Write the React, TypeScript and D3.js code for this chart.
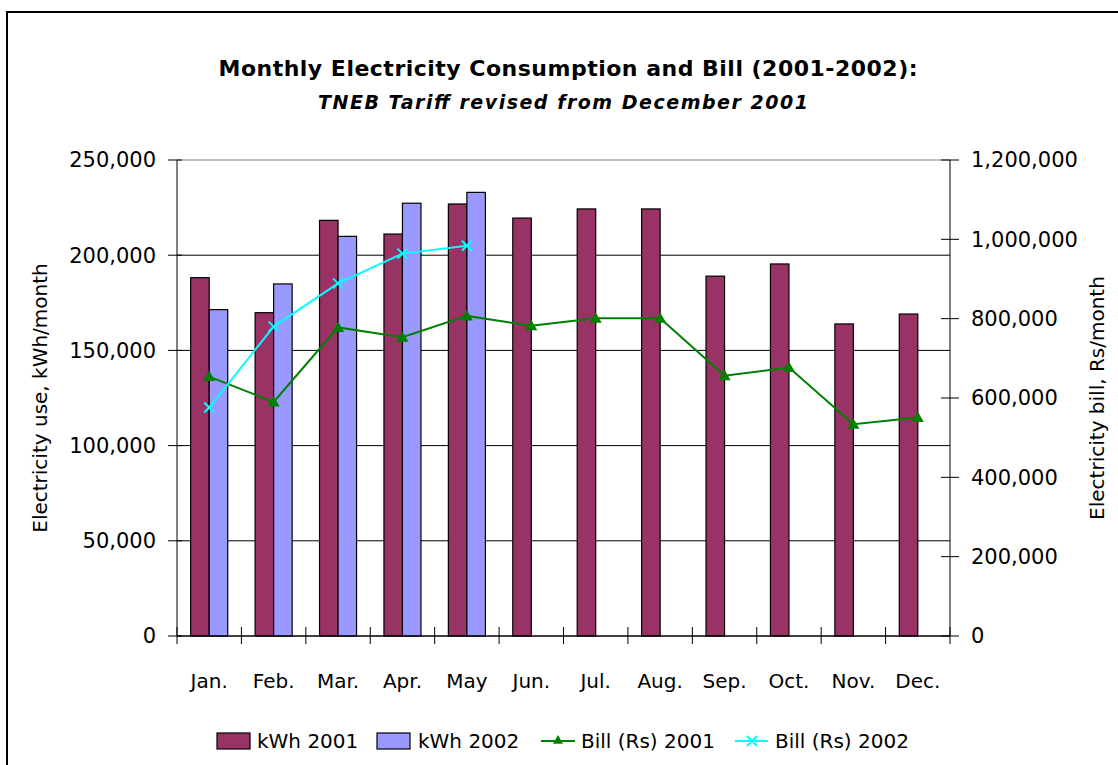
import React from 'react'
import * as d3 from 'd3'

const months = ['Jan.', 'Feb.', 'Mar.', 'Apr.', 'May', 'Jun.', 'Jul.', 'Aug.', 'Sep.', 'Oct.', 'Nov.', 'Dec.']
const kwh2001 = [188200, 169800, 218300, 211100, 226900, 219500, 224300, 224300, 189000, 195400, 163900, 169100]
const kwh2002: (number | null)[] = [171400, 184900, 209900, 227300, 233000, null, null, null, null, null, null, null]
const bill2001 = [654000, 590000, 778000, 753000, 807000, 782000, 801000, 801000, 656000, 677000, 534000, 551000]
const bill2002: (number | null)[] = [576000, 780000, 889000, 964000, 984000, null, null, null, null, null, null, null]

const W = 1118
const H = 765
const FONT = '"DejaVu Sans", Verdana, sans-serif'

const COL_2001 = '#993366'
const COL_2002 = '#9999FF'
const COL_BILL1 = '#008000'
const COL_BILL2 = '#00FFFF'

export default function App() {
  const margin = { left: 177, right: 950, top: 160, bottom: 636 }

  const x = d3.scaleBand<string>().domain(months).range([margin.left, margin.right]).padding(0)
  const xSub = d3.scaleBand<string>().domain(['2001', '2002']).range([0, x.bandwidth()]).paddingInner(0).paddingOuter(0.74)
  const yL = d3.scaleLinear().domain([0, 250000]).range([margin.bottom, margin.top])
  const yR = d3.scaleLinear().domain([0, 1200000]).range([margin.bottom, margin.top])
  const fmt = d3.format(',')

  const cx = (m: string) => (x(m) || 0) + x.bandwidth() / 2

  const line1 = d3.line<number>().x((_, i) => cx(months[i])).y(d => yR(d))
  const line2 = d3.line<number | null>()
    .defined(d => d != null)
    .x((_, i) => cx(months[i]))
    .y(d => yR(d as number))

  const tri = (px: number, py: number, s = 6) =>
    `M${px},${py - s}L${px + s},${py + s * 0.75}L${px - s},${py + s * 0.75}Z`
  const cross = (px: number, py: number, s = 5) =>
    `M${px - s},${py - s}L${px + s},${py + s}M${px - s},${py + s}L${px + s},${py - s}`

  const legendY = 741

  return (
    <svg width={W} height={H} style={{ position: 'absolute', left: 0, top: 0, background: '#fff' }} fontFamily={FONT}>
      <rect x={7} y={12} width={W} height={H} fill="#fff" stroke="#000" strokeWidth={2} />

      {/* titles */}
      <text x={568} y={76} textAnchor="middle" fontSize={22} fontWeight="bold" textLength={699} lengthAdjust="spacing">
        Monthly Electricity Consumption and Bill (2001-2002):
      </text>
      <text x={563} y={109} textAnchor="middle" fontSize={19} fontWeight="bold" fontStyle="italic" textLength={490} lengthAdjust="spacing">
        TNEB Tariff revised from December 2001
      </text>

      {/* gridlines */}
      {yL.ticks(5).map(t => (
        <line key={'g' + t} x1={margin.left} x2={margin.right} y1={yL(t)} y2={yL(t)} stroke={t === 250000 ? '#808080' : '#000'} strokeWidth={1} />
      ))}

      {/* bars */}
      {months.map((m, i) => (
        <g key={'b' + m}>
          <rect x={(x(m) || 0) + (xSub('2001') || 0)} y={yL(kwh2001[i])} width={xSub.bandwidth()} height={yL(0) - yL(kwh2001[i])}
            fill={COL_2001} stroke="#000" strokeWidth={1.2} />
          {kwh2002[i] != null && (
            <rect x={(x(m) || 0) + (xSub('2002') || 0)} y={yL(kwh2002[i] as number)} width={xSub.bandwidth()} height={yL(0) - yL(kwh2002[i] as number)}
              fill={COL_2002} stroke="#000" strokeWidth={1.2} />
          )}
        </g>
      ))}

      {/* lines */}
      <path d={line1(bill2001) || ''} fill="none" stroke={COL_BILL1} strokeWidth={2} />
      {bill2001.map((v, i) => (
        <path key={'t' + i} d={tri(cx(months[i]), yR(v))} fill={COL_BILL1} />
      ))}
      <path d={line2(bill2002) || ''} fill="none" stroke={COL_BILL2} strokeWidth={2} />
      {bill2002.map((v, i) => v != null && (
        <path key={'x' + i} d={cross(cx(months[i]), yR(v))} stroke={COL_BILL2} strokeWidth={2} fill="none" />
      ))}

      {/* left axis */}
      <line x1={margin.left} x2={margin.left} y1={margin.top} y2={margin.bottom} stroke="#000" />
      {yL.ticks(5).map(t => (
        <g key={'l' + t}>
          <line x1={margin.left - 9} x2={margin.left + 5} y1={yL(t)} y2={yL(t)} stroke="#000" />
          <text x={156} y={yL(t)} dy="0.35em" textAnchor="end" fontSize={21}>{fmt(t)}</text>
        </g>
      ))}

      {/* right axis */}
      <line x1={margin.right} x2={margin.right} y1={margin.top} y2={margin.bottom} stroke="#000" />
      {yR.ticks(6).map(t => (
        <g key={'r' + t}>
          <line x1={margin.right - 9} x2={margin.right + 9} y1={yR(t)} y2={yR(t)} stroke="#000" />
          <text x={971} y={yR(t)} dy="0.35em" textAnchor="start" fontSize={21}>{fmt(t)}</text>
        </g>
      ))}

      {/* x axis */}
      <line x1={margin.left} x2={margin.right} y1={margin.bottom} y2={margin.bottom} stroke="#000" />
      {months.concat(['end']).map((m, i) => {
        const px = margin.left + i * x.bandwidth()
        return <line key={'xt' + i} x1={px} x2={px} y1={margin.bottom - 9} y2={margin.bottom + 8} stroke="#000" />
      })}
      {months.map(m => (
        <text key={'xl' + m} x={cx(m)} y={688} textAnchor="middle" fontSize={20}>{m}</text>
      ))}

      {/* axis titles */}
      <text transform={`translate(47,${(margin.top + margin.bottom) / 2}) rotate(-90)`} textAnchor="middle" fontSize={20}>
        Electricity use, kWh/month
      </text>
      <text transform={`translate(1104,${(margin.top + margin.bottom) / 2}) rotate(-90)`} textAnchor="middle" fontSize={20}>
        Electricity bill, Rs/month
      </text>

      {/* legend */}
      <rect x={217} y={legendY - 8} width={33} height={16} fill={COL_2001} stroke="#000" strokeWidth={1.2} />
      <text x={257} y={legendY} dy="0.35em" fontSize={20}>kWh 2001</text>
      <rect x={377} y={legendY - 8} width={33} height={16} fill={COL_2002} stroke="#000" strokeWidth={1.2} />
      <text x={418} y={legendY} dy="0.35em" fontSize={20}>kWh 2002</text>
      <line x1={541} x2={575} y1={legendY} y2={legendY} stroke={COL_BILL1} strokeWidth={2} />
      <path d={tri(558, legendY - 1, 5)} fill={COL_BILL1} />
      <text x={581} y={legendY} dy="0.35em" fontSize={20}>Bill (Rs) 2001</text>
      <line x1={735} x2={768} y1={legendY} y2={legendY} stroke={COL_BILL2} strokeWidth={2} />
      <path d={cross(752, legendY, 5)} stroke={COL_BILL2} strokeWidth={2} fill="none" />
      <text x={775} y={legendY} dy="0.35em" fontSize={20}>Bill (Rs) 2002</text>
    </svg>
  )
}
